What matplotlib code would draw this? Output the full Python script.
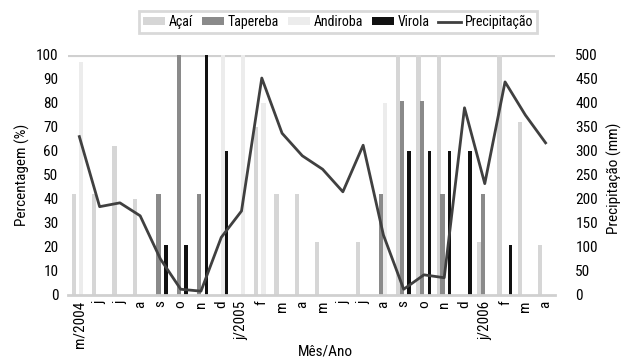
import matplotlib
matplotlib.use("Agg")
import matplotlib.pyplot as plt
import numpy as np
from matplotlib import font_manager

names = {f.name for f in font_manager.fontManager.ttflist}
fam = [n for n in ["Liberation Sans Narrow", "Roboto Condensed", "Liberation Sans"] if n in names] + ["DejaVu Sans"]
plt.rcParams['font.family'] = fam

months = ["m/2004", "j", "j", "a", "s", "o", "n", "d", "j/2005", "f", "m", "a",
          "m", "j", "j", "a", "s", "o", "n", "d", "j/2006", "f", "m", "a"]
acai      = [42, 42, 62, 40, 0, 0, 0, 0, 0, 70, 42, 42, 22, 0, 22, 0, 100, 100, 100, 0, 22, 100, 72, 21]
tapereba  = [0, 0, 0, 0, 42, 100, 42, 0, 0, 0, 0, 0, 0, 0, 0, 42, 81, 81, 42, 0, 42, 0, 0, 0]
andiroba  = [97, 0, 0, 0, 0, 0, 0, 100, 100, 80, 0, 0, 0, 0, 0, 80, 0, 0, 0, 0, 0, 0, 0, 0]
virola    = [0, 0, 0, 0, 21, 21, 100, 60, 0, 0, 0, 0, 0, 0, 0, 0, 60, 60, 60, 60, 0, 21, 0, 0]
precip    = [330, 184, 192, 165, 75, 12, 8, 120, 175, 452, 337, 290, 262, 215, 312, 125,
             12, 42, 36, 390, 232, 444, 375, 317]

x = np.arange(len(months))
fig = plt.figure(figsize=(6.23, 3.60), dpi=100)
ax = fig.add_axes([68/623, 65/360, (554.5-68)/623, 240/360])

w = 0.21
series = [(acai, "Açaí", "#d6d6d6", -0.27),
          (tapereba, "Tapereba", "#8a8a8a", -0.09),
          (andiroba, "Andiroba", "#ececec", 0.09),
          (virola, "Virola", "#111111", 0.27)]
handles = []
for vals, lab, col, off in series:
    bw = w if lab != "Virola" else 0.17
    h = ax.bar(x + off, vals, width=bw, color=col, label=lab, zorder=2)
    handles.append(h)

ax.set_xlim(-0.56, 23.44)
ax.set_ylim(0, 100)
ax.set_yticks(np.arange(0, 101, 10))
ax.axhline(100, color="#d0d0d0", lw=3, zorder=1)
for s in ["top", "right", "left"]:
    ax.spines[s].set_visible(False)
ax.spines["bottom"].set_color("#d0d0d0")
ax.spines["bottom"].set_linewidth(2)
ax.tick_params(axis="y", length=0, pad=7, labelsize=11)
ax.set_xticks(x)
ax.set_xticklabels(months, rotation=90, fontsize=11)
ax.tick_params(axis="x", length=0, pad=4)
ax.set_ylabel("Percentagem (%)", fontsize=11, labelpad=4)
fig.text(325/623, 1 - 351/360, "Mês/Ano", ha="center", va="center", fontsize=11)

ax2 = ax.twinx()
ln, = ax2.plot(x, precip, color="#404040", lw=2, label="Precipitação", zorder=3)
ax2.set_ylim(0, 500)
ax2.set_yticks(np.arange(0, 501, 50))
for s in ["top", "right", "left", "bottom"]:
    ax2.spines[s].set_visible(False)
ax2.tick_params(axis="y", length=0, pad=15, labelsize=11)
fig.text(614/623, 1 - 178/360, "Precipitação (mm)", rotation=90, ha="center", va="center", fontsize=11)

leg = fig.legend(handles + [ln], ["Açaí", "Tapereba", "Andiroba", "Virola", "Precipitação"],
                 loc="center", bbox_to_anchor=(338/623, 1 - 22/360), ncol=5, frameon=True,
                 fontsize=10, handlelength=1.6, handleheight=0.5, columnspacing=0.6,
                 handletextpad=0.3, borderpad=0.3, fancybox=False)
leg.get_frame().set_edgecolor("#d0d0d0")
leg.get_frame().set_linewidth(2)

fig.savefig("out.png", dpi=100)
